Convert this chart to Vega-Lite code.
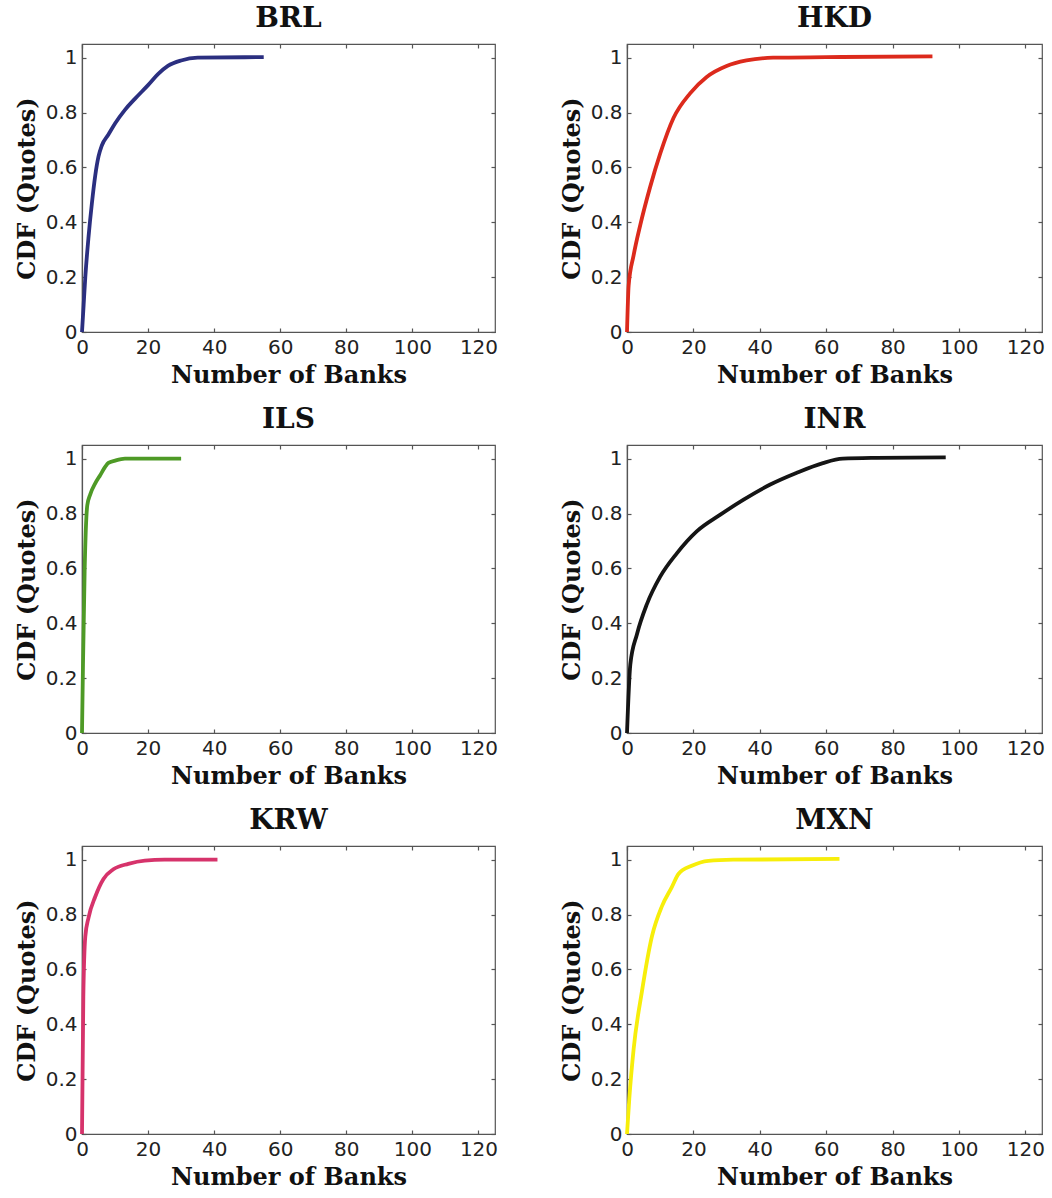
{
  "$schema": "https://vega.github.io/schema/vega-lite/v6.json",
  "background": "white",
  "padding": {"left": 14, "top": 4, "right": 5, "bottom": 5},
  "datasets": {
    "BRL": [
      {"banks": 0, "cdf": 0}, {"banks": 0.5, "cdf": 0.1}, {"banks": 1, "cdf": 0.2}, {"banks": 2, "cdf": 0.35},
      {"banks": 3, "cdf": 0.47}, {"banks": 4, "cdf": 0.57}, {"banks": 5, "cdf": 0.64}, {"banks": 6, "cdf": 0.68},
      {"banks": 8, "cdf": 0.72}, {"banks": 10, "cdf": 0.76}, {"banks": 13, "cdf": 0.81}, {"banks": 16, "cdf": 0.85},
      {"banks": 20, "cdf": 0.9}, {"banks": 23, "cdf": 0.94}, {"banks": 26, "cdf": 0.97}, {"banks": 30, "cdf": 0.99},
      {"banks": 35, "cdf": 1.0}, {"banks": 55, "cdf": 1.002}
    ],
    "HKD": [
      {"banks": 0, "cdf": 0}, {"banks": 0.5, "cdf": 0.17}, {"banks": 2, "cdf": 0.28}, {"banks": 4, "cdf": 0.39},
      {"banks": 7, "cdf": 0.53}, {"banks": 10, "cdf": 0.65}, {"banks": 14, "cdf": 0.78}, {"banks": 19, "cdf": 0.87},
      {"banks": 24, "cdf": 0.93}, {"banks": 30, "cdf": 0.97}, {"banks": 36, "cdf": 0.99}, {"banks": 44, "cdf": 1.0},
      {"banks": 60, "cdf": 1.002}, {"banks": 92, "cdf": 1.005}
    ],
    "ILS": [
      {"banks": 0, "cdf": 0}, {"banks": 0.3, "cdf": 0.25}, {"banks": 0.8, "cdf": 0.59}, {"banks": 1.6, "cdf": 0.83},
      {"banks": 2.5, "cdf": 0.87}, {"banks": 4, "cdf": 0.91}, {"banks": 5.5, "cdf": 0.94}, {"banks": 7, "cdf": 0.97},
      {"banks": 8, "cdf": 0.985}, {"banks": 10, "cdf": 0.993}, {"banks": 13, "cdf": 1.0}, {"banks": 30, "cdf": 1.0}
    ],
    "INR": [
      {"banks": 0, "cdf": 0}, {"banks": 1, "cdf": 0.25}, {"banks": 3, "cdf": 0.36}, {"banks": 6, "cdf": 0.47},
      {"banks": 10, "cdf": 0.57}, {"banks": 15, "cdf": 0.655}, {"banks": 21, "cdf": 0.735}, {"banks": 28, "cdf": 0.795},
      {"banks": 35, "cdf": 0.85}, {"banks": 43, "cdf": 0.905}, {"banks": 51, "cdf": 0.948}, {"banks": 59, "cdf": 0.984},
      {"banks": 65, "cdf": 1.0}, {"banks": 75, "cdf": 1.003}, {"banks": 96, "cdf": 1.005}
    ],
    "KRW": [
      {"banks": 0, "cdf": 0}, {"banks": 0.4, "cdf": 0.5}, {"banks": 1, "cdf": 0.72}, {"banks": 2, "cdf": 0.79},
      {"banks": 4, "cdf": 0.865}, {"banks": 6.5, "cdf": 0.93}, {"banks": 9.5, "cdf": 0.965}, {"banks": 14, "cdf": 0.985},
      {"banks": 19, "cdf": 0.997}, {"banks": 25, "cdf": 1.0}, {"banks": 41, "cdf": 1.0}
    ],
    "MXN": [
      {"banks": 0, "cdf": 0}, {"banks": 0.7, "cdf": 0.13}, {"banks": 2, "cdf": 0.31}, {"banks": 4.5, "cdf": 0.52},
      {"banks": 7.5, "cdf": 0.72}, {"banks": 10.5, "cdf": 0.83}, {"banks": 13.5, "cdf": 0.9}, {"banks": 15.5, "cdf": 0.948},
      {"banks": 19.5, "cdf": 0.978}, {"banks": 24.5, "cdf": 0.996}, {"banks": 32, "cdf": 1.0}, {"banks": 64, "cdf": 1.003}
    ]
  },
  "columns": 2,
  "spacing": {"row": 17, "column": 60},
  "concat": [
    {
      "title": "BRL", "width": 413, "height": 288, "data": {"name": "BRL"},
      "layer": [
        {"mark": {"type": "line", "color": "#2b2f80", "strokeWidth": 3.8, "interpolate": "monotone"},
         "encoding": {
           "x": {"field": "banks", "type": "quantitative", "scale": {"domain": [0, 125], "nice": false, "zero": false}, "axis": {"values": [0, 20, 40, 60, 80, 100, 120], "title": "Number of Banks"}},
           "y": {"field": "cdf", "type": "quantitative", "scale": {"domain": [0, 1.05], "nice": false}, "axis": {"values": [0, 0.2, 0.4, 0.6, 0.8, 1], "format": "~g", "title": "CDF (Quotes)"}}}},
        {"mark": {"type": "line", "opacity": 0},
         "encoding": {
           "x": {"field": "banks", "type": "quantitative", "axis": {"orient": "top", "values": [0, 20, 40, 60, 80, 100, 120], "labels": false, "title": null, "domain": false}},
           "y": {"field": "cdf", "type": "quantitative", "axis": {"orient": "right", "values": [0, 0.2, 0.4, 0.6, 0.8, 1], "labels": false, "title": null, "domain": false}}}}
      ],
      "resolve": {"axis": {"x": "independent", "y": "independent"}}
    },
    {
      "title": "HKD", "width": 415, "height": 288, "data": {"name": "HKD"},
      "layer": [
        {"mark": {"type": "line", "color": "#dc2a1c", "strokeWidth": 3.8, "interpolate": "monotone"},
         "encoding": {
           "x": {"field": "banks", "type": "quantitative", "scale": {"domain": [0, 125], "nice": false, "zero": false}, "axis": {"values": [0, 20, 40, 60, 80, 100, 120], "title": "Number of Banks"}},
           "y": {"field": "cdf", "type": "quantitative", "scale": {"domain": [0, 1.05], "nice": false}, "axis": {"values": [0, 0.2, 0.4, 0.6, 0.8, 1], "format": "~g", "title": "CDF (Quotes)"}}}},
        {"mark": {"type": "line", "opacity": 0},
         "encoding": {
           "x": {"field": "banks", "type": "quantitative", "axis": {"orient": "top", "values": [0, 20, 40, 60, 80, 100, 120], "labels": false, "title": null, "domain": false}},
           "y": {"field": "cdf", "type": "quantitative", "axis": {"orient": "right", "values": [0, 0.2, 0.4, 0.6, 0.8, 1], "labels": false, "title": null, "domain": false}}}}
      ],
      "resolve": {"axis": {"x": "independent", "y": "independent"}}
    },
    {
      "title": "ILS", "width": 413, "height": 288, "data": {"name": "ILS"},
      "layer": [
        {"mark": {"type": "line", "color": "#4e9a26", "strokeWidth": 3.8, "interpolate": "monotone"},
         "encoding": {
           "x": {"field": "banks", "type": "quantitative", "scale": {"domain": [0, 125], "nice": false, "zero": false}, "axis": {"values": [0, 20, 40, 60, 80, 100, 120], "title": "Number of Banks"}},
           "y": {"field": "cdf", "type": "quantitative", "scale": {"domain": [0, 1.05], "nice": false}, "axis": {"values": [0, 0.2, 0.4, 0.6, 0.8, 1], "format": "~g", "title": "CDF (Quotes)"}}}},
        {"mark": {"type": "line", "opacity": 0},
         "encoding": {
           "x": {"field": "banks", "type": "quantitative", "axis": {"orient": "top", "values": [0, 20, 40, 60, 80, 100, 120], "labels": false, "title": null, "domain": false}},
           "y": {"field": "cdf", "type": "quantitative", "axis": {"orient": "right", "values": [0, 0.2, 0.4, 0.6, 0.8, 1], "labels": false, "title": null, "domain": false}}}}
      ],
      "resolve": {"axis": {"x": "independent", "y": "independent"}}
    },
    {
      "title": "INR", "width": 415, "height": 288, "data": {"name": "INR"},
      "layer": [
        {"mark": {"type": "line", "color": "#151515", "strokeWidth": 3.8, "interpolate": "monotone"},
         "encoding": {
           "x": {"field": "banks", "type": "quantitative", "scale": {"domain": [0, 125], "nice": false, "zero": false}, "axis": {"values": [0, 20, 40, 60, 80, 100, 120], "title": "Number of Banks"}},
           "y": {"field": "cdf", "type": "quantitative", "scale": {"domain": [0, 1.05], "nice": false}, "axis": {"values": [0, 0.2, 0.4, 0.6, 0.8, 1], "format": "~g", "title": "CDF (Quotes)"}}}},
        {"mark": {"type": "line", "opacity": 0},
         "encoding": {
           "x": {"field": "banks", "type": "quantitative", "axis": {"orient": "top", "values": [0, 20, 40, 60, 80, 100, 120], "labels": false, "title": null, "domain": false}},
           "y": {"field": "cdf", "type": "quantitative", "axis": {"orient": "right", "values": [0, 0.2, 0.4, 0.6, 0.8, 1], "labels": false, "title": null, "domain": false}}}}
      ],
      "resolve": {"axis": {"x": "independent", "y": "independent"}}
    },
    {
      "title": "KRW", "width": 413, "height": 288, "data": {"name": "KRW"},
      "layer": [
        {"mark": {"type": "line", "color": "#d6336b", "strokeWidth": 3.8, "interpolate": "monotone"},
         "encoding": {
           "x": {"field": "banks", "type": "quantitative", "scale": {"domain": [0, 125], "nice": false, "zero": false}, "axis": {"values": [0, 20, 40, 60, 80, 100, 120], "title": "Number of Banks"}},
           "y": {"field": "cdf", "type": "quantitative", "scale": {"domain": [0, 1.05], "nice": false}, "axis": {"values": [0, 0.2, 0.4, 0.6, 0.8, 1], "format": "~g", "title": "CDF (Quotes)"}}}},
        {"mark": {"type": "line", "opacity": 0},
         "encoding": {
           "x": {"field": "banks", "type": "quantitative", "axis": {"orient": "top", "values": [0, 20, 40, 60, 80, 100, 120], "labels": false, "title": null, "domain": false}},
           "y": {"field": "cdf", "type": "quantitative", "axis": {"orient": "right", "values": [0, 0.2, 0.4, 0.6, 0.8, 1], "labels": false, "title": null, "domain": false}}}}
      ],
      "resolve": {"axis": {"x": "independent", "y": "independent"}}
    },
    {
      "title": "MXN", "width": 415, "height": 288, "data": {"name": "MXN"},
      "layer": [
        {"mark": {"type": "line", "color": "#f7ee0a", "strokeWidth": 3.8, "interpolate": "monotone"},
         "encoding": {
           "x": {"field": "banks", "type": "quantitative", "scale": {"domain": [0, 125], "nice": false, "zero": false}, "axis": {"values": [0, 20, 40, 60, 80, 100, 120], "title": "Number of Banks"}},
           "y": {"field": "cdf", "type": "quantitative", "scale": {"domain": [0, 1.05], "nice": false}, "axis": {"values": [0, 0.2, 0.4, 0.6, 0.8, 1], "format": "~g", "title": "CDF (Quotes)"}}}},
        {"mark": {"type": "line", "opacity": 0},
         "encoding": {
           "x": {"field": "banks", "type": "quantitative", "axis": {"orient": "top", "values": [0, 20, 40, 60, 80, 100, 120], "labels": false, "title": null, "domain": false}},
           "y": {"field": "cdf", "type": "quantitative", "axis": {"orient": "right", "values": [0, 0.2, 0.4, 0.6, 0.8, 1], "labels": false, "title": null, "domain": false}}}}
      ],
      "resolve": {"axis": {"x": "independent", "y": "independent"}}
    }
  ],
  "config": {
    "view": {"stroke": "#555", "strokeWidth": 1.2},
    "axis": {
      "grid": false, "tickSize": -4, "tickColor": "#555", "tickWidth": 1.2, "domainColor": "#555", "domainWidth": 1.2,
      "labelFont": "DejaVu Sans", "labelFontSize": 20, "labelColor": "#222", "labelPadding": 9, "labelFlush": false,
      "titleFont": "DejaVu Serif", "titleFontSize": 24, "titleFontWeight": "bold", "titleColor": "#111", "titlePadding": 6
    },
    "title": {"font": "DejaVu Serif", "fontSize": 28, "fontWeight": "bold", "color": "#111", "offset": 10}
  }
}
